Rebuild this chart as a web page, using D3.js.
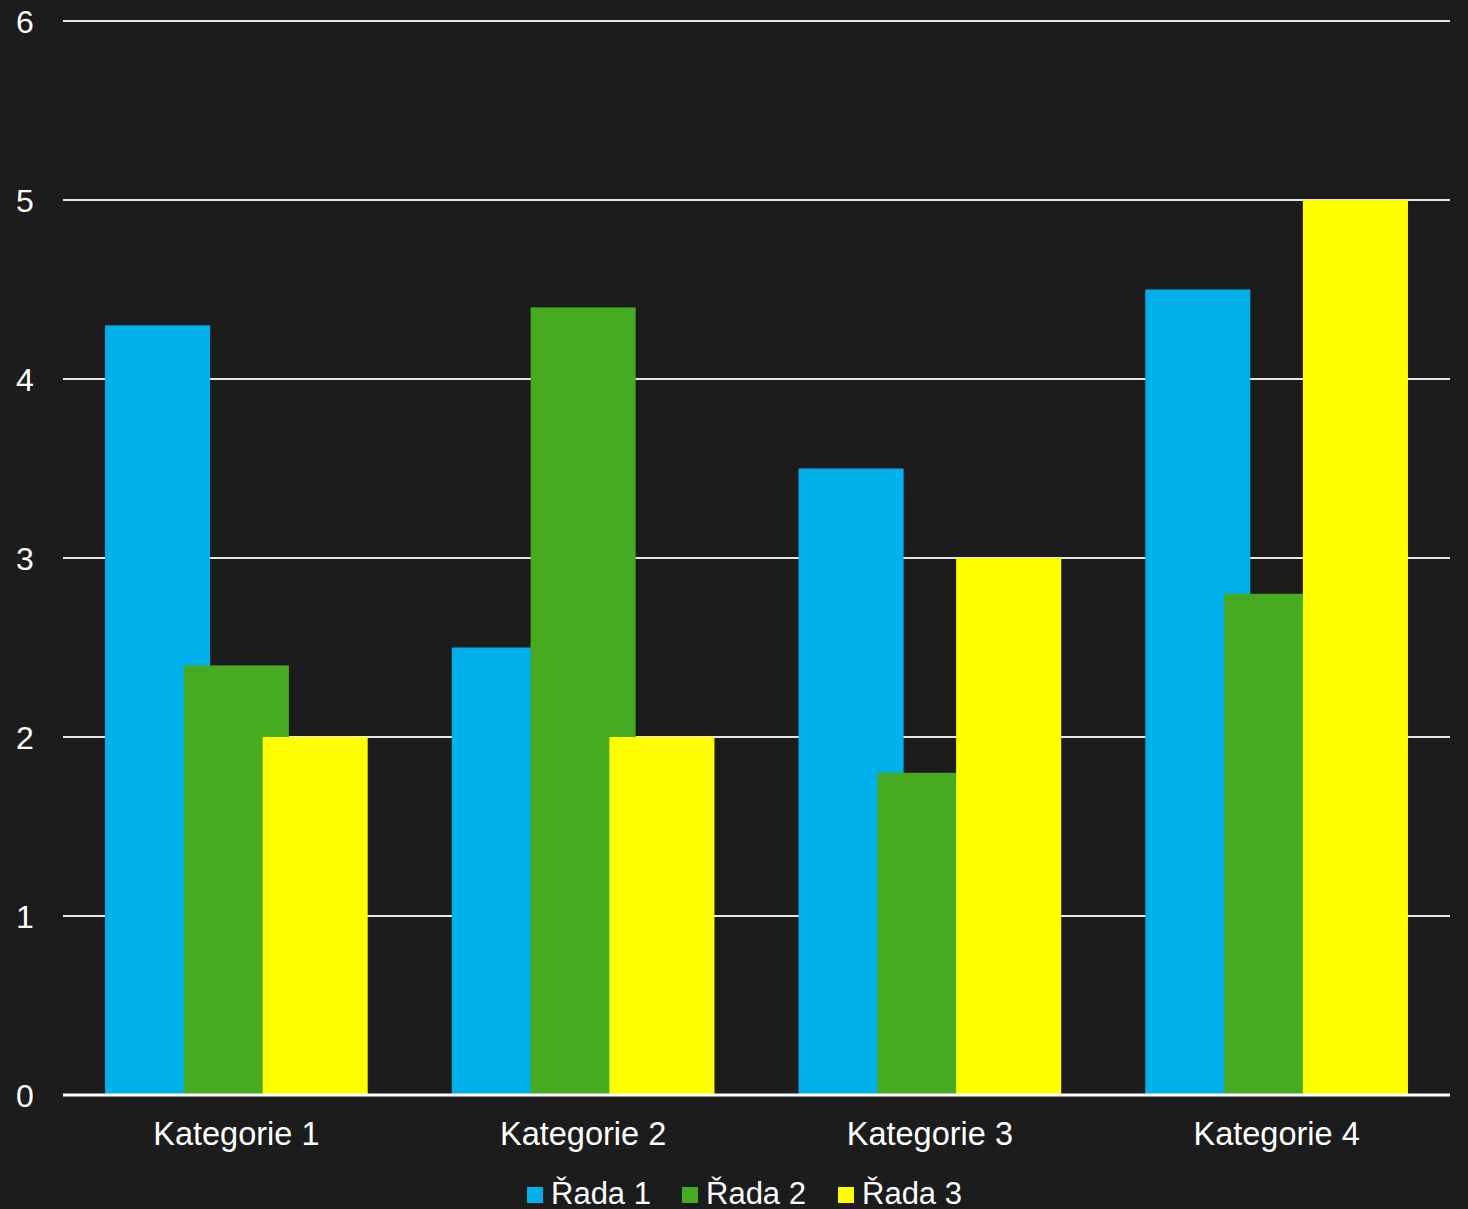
<!DOCTYPE html>
<html>
<head>
<meta charset="utf-8">
<script src="https://cdn.jsdelivr.net/npm/d3@7"></script>
<style>
  body { margin: 0; background: #1c1c1c; }
  svg { display: block; }
</style>
</head>
<body>
<div id="chart"></div>
<script>
var categories = ["Kategorie 1", "Kategorie 2", "Kategorie 3", "Kategorie 4"];
var seriesNames = ["Řada 1", "Řada 2", "Řada 3"];
var rada1 = [4.3, 2.5, 3.5, 4.5];
var rada2 = [2.4, 4.4, 1.8, 2.8];
var rada3 = [2.0, 2.0, 3.0, 5.0];
var yTicks = [0, 1, 2, 3, 4, 5, 6];
var colors = ["#00b0ea", "#47ab22", "#ffff00"];

var width = 1468, height = 1209;
var plotLeft = 63, plotRight = 1450, plotTop = 21, plotBottom = 1095;

var svg = d3.select("#chart")
  .append("svg")
  .attr("width", width)
  .attr("height", height)
  .style("font-family", "'Liberation Sans', Arial, sans-serif");

svg.append("rect").attr("width", width).attr("height", height).attr("fill", "#1c1c1c");

var x0 = d3.scaleBand()
  .domain(categories)
  .range([plotLeft, plotRight]);

var y = d3.scaleLinear()
  .domain([0, 6])
  .range([plotBottom, plotTop]);

// bars overlap each other a bit, like the office chart
var band = x0.bandwidth();
var barW = band * 0.303;
var step = barW * 0.75;
var gap = (band - 2 * step - barW) / 2;
var xs = d3.scalePoint().domain(seriesNames).range([0, 2 * step]);
var z = d3.scaleOrdinal().domain(seriesNames).range(colors);

// grid
svg.append("g")
  .selectAll("line")
  .data(yTicks.filter(function(d) { return d > 0; }))
  .enter().append("line")
    .attr("x1", plotLeft)
    .attr("x2", plotRight)
    .attr("y1", function(d) { return y(d); })
    .attr("y2", function(d) { return y(d); })
    .attr("stroke", "#e6e6e6")
    .attr("stroke-width", 2);

var data = [rada1, rada2, rada3];
seriesNames.forEach(function(name, si) {
  svg.append("g")
    .selectAll("rect")
    .data(categories.map(function(c, i) { return {cat: c, value: data[si][i]}; }))
    .enter().append("rect")
      .attr("x", function(d) { return x0(d.cat) + gap + xs(name); })
      .attr("y", function(d) { return y(d.value); })
      .attr("width", barW)
      .attr("height", function(d) { return plotBottom - y(d.value); })
      .attr("fill", z(name));
});

// zero line
svg.append("line")
  .attr("x1", plotLeft).attr("x2", plotRight)
  .attr("y1", y(0)).attr("y2", y(0))
  .attr("stroke", "#ffffff")
  .attr("stroke-width", 3);

// y labels
svg.append("g")
  .selectAll("text")
  .data(yTicks)
  .enter().append("text")
    .attr("x", 25)
    .attr("y", function(d) { return y(d); })
    .attr("dy", "0.36em")
    .attr("text-anchor", "middle")
    .attr("fill", "#ffffff")
    .attr("font-size", 32)
    .text(function(d) { return d; });

// x labels
svg.append("g")
  .selectAll("text")
  .data(categories)
  .enter().append("text")
    .attr("x", function(d) { return x0(d) + band / 2; })
    .attr("y", 1145)
    .attr("text-anchor", "middle")
    .attr("fill", "#ffffff")
    .attr("font-size", 32.5)
    .text(function(d) { return d; });

// legend
var legendX = [527, 682, 838];
var legend = svg.append("g")
  .selectAll("g")
  .data(seriesNames)
  .enter().append("g")
    .attr("transform", function(d, i) { return "translate(" + legendX[i] + ",1187)"; });

legend.append("rect")
  .attr("width", 16)
  .attr("height", 16)
  .attr("fill", z);

legend.append("text")
  .attr("x", 24)
  .attr("y", 17)
  .attr("fill", "#ffffff")
  .attr("font-size", 31)
  .text(function(d) { return d; });
</script>
</body>
</html>
